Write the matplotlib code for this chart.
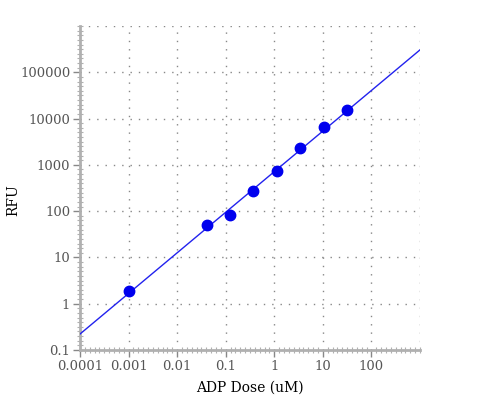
import numpy as np
import matplotlib
matplotlib.use('Agg')
import matplotlib.pyplot as plt
from matplotlib.ticker import FixedLocator, NullFormatter

# data
dose = [0.001, 0.0417, 0.123, 0.37, 1.15, 3.4, 10.7, 32]
rfu = [1.88, 50, 83, 270, 740, 2300, 6600, 15000]

xticks = [0.0001, 0.001, 0.01, 0.1, 1, 10, 100]
xticklabels = ['0.0001', '0.001', '0.01', '0.1', '1', '10', '100']
yticks = [0.1, 1, 10, 100, 1000, 10000, 100000]
yticklabels = ['0.1', '1', '10', '100', '1000', '10000', '100000']

# power-law fit in log space
slope, intercept = np.polyfit(np.log10(dose), np.log10(rfu), 1)
xfit = np.logspace(-4, 3, 200)
yfit = 10 ** (intercept + slope * np.log10(xfit))

plt.rcParams['font.family'] = 'DejaVu Serif'
fig = plt.figure(figsize=(5, 4), dpi=100)
ax = fig.add_axes([0.16, 0.125, 0.68, 0.81])

ax.plot(xfit, yfit, color='#2222ee', lw=1, zorder=3)
ax.plot(dose, rfu, 'o', color='#0000ee', ms=7.5, zorder=4)

ax.set_xscale('log')
ax.set_yscale('log')
ax.set_xlim(1e-4, 1e3)
ax.set_ylim(0.1, 1e6)

ax.xaxis.set_major_locator(FixedLocator(xticks))
ax.set_xticklabels(xticklabels)
ax.yaxis.set_major_locator(FixedLocator(yticks))
ax.set_yticklabels(yticklabels)

# dense evenly spaced minor ticks (10 per decade)
ax.xaxis.set_minor_locator(FixedLocator(10 ** np.arange(-4, 3.01, 0.1)))
ax.yaxis.set_minor_locator(FixedLocator(10 ** np.arange(-1, 6.01, 0.1)))
ax.xaxis.set_minor_formatter(NullFormatter())
ax.yaxis.set_minor_formatter(NullFormatter())

# grid at decades, plus the far edges
for x in xticks[1:] + [1000]:
    ax.axvline(x, color='#888888', lw=1, ls=(0, (1, 5)), zorder=1)
for y in yticks[1:] + [1e6]:
    ax.axhline(y, color='#888888', lw=1, ls=(0, (1, 5)), zorder=1)

for s in ['top', 'right']:
    ax.spines[s].set_visible(False)
for s in ['left', 'bottom']:
    ax.spines[s].set_color('#b0b0b0')
    ax.spines[s].set_linewidth(2)

ax.tick_params(which='major', direction='out', length=5, width=1,
               color='#888888', labelcolor='#555555', labelsize=9.5, pad=2)
ax.tick_params(which='minor', direction='inout', length=4, width=0.8,
               color='#b0b0b0')

ax.set_xlabel('ADP Dose (uM)', fontsize=10, labelpad=6)
ax.set_ylabel('RFU', fontsize=10)
ax.yaxis.set_label_coords(20 / 500, 200 / 400, transform=fig.transFigure)

fig.savefig('out.png', dpi=100)
